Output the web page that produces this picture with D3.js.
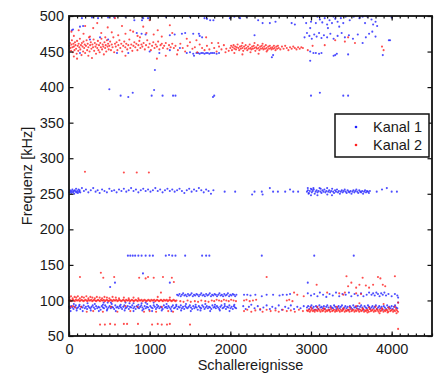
<!DOCTYPE html>
<html>
<head>
<meta charset="utf-8">
<script src="https://cdn.jsdelivr.net/npm/d3@7"></script>
<style>
  body { margin: 0; background: #fff; }
  svg { display: block; font-family: "Liberation Sans", Arial, sans-serif; }
</style>
</head>
<body>
<svg id="chart"></svg>
<script>
// values, flat [x, y, x, y, ...]
const xTicks = [0, 1000, 2000, 3000, 4000];
const yTicks = [50, 100, 150, 200, 250, 300, 350, 400, 450, 500];
const seriesNames = ["Kanal 1", "Kanal 2"];

// Kanal 1 (blue)
const k1Top = [35,480, 50,481, 136,485, 160,497, 175,486, 285,498, 360,497, 485,498, 560,498, 700,499, 810,494, 905,494, 920,497, 980,497,
  1200,499, 1500,499, 1680,497, 1710,496, 1750,494, 1790,494, 1995,497, 2050,499, 2120,497, 2200,499, 2345,494, 2400,490, 2490,490,
  2560,492, 2760,490, 2800,488, 2900,499, 2940,490, 2990,483, 3000,492, 3060,490, 3080,499, 3110,495, 3140,491, 3170,497, 3200,488,
  3210,483, 3230,494, 3260,490, 3280,499, 3300,496, 3330,492, 3350,485, 3370,497, 3400,490, 3430,499, 3480,494, 3530,499, 3600,497,
  3640,499, 3670,490, 3700,499, 3750,495, 3770,488, 3800,492, 3820,486, 4000,498];
const k1Upper = [260,467, 385,470, 485,467, 840,476, 900,475, 950,474, 1250,473, 1310,474, 1400,475, 1440,476, 1540,475, 1610,475,
  1650,470, 1620,472, 2300,473, 2920,470, 2950,476, 2980,472, 3010,468, 3040,474, 3070,471, 3100,476, 3130,469, 3160,473, 3200,470,
  3240,475, 3280,468, 3330,472, 3380,476, 3420,470, 3470,473, 3520,468, 3580,474, 3640,462, 3680,470, 3720,475, 3760,478, 3800,471,
  3965,466, 3980,466,
  136,448, 595,448, 735,448, 1000,450, 1120,448, 1375,455, 1460,448, 1500,449, 1540,447, 1580,448, 1600,448, 1620,447, 1640,448,
  1660,448, 1680,447, 1700,448, 1720,448, 1740,447, 1760,448, 1780,448, 1800,448, 1830,447, 1860,448, 1250,452, 2990,450, 2990,437,
  3030,448, 3060,448, 3100,447, 3130,448, 3280,444, 3300,445, 3320,447, 3460,446, 3890,445, 2515,442, 2530,445, 1550,444];
const k1Mid = [500,397, 640,388, 735,386, 790,392, 1025,388, 1055,396, 1065,424, 1160,388, 1290,388, 1320,388, 1785,386, 1800,388,
  3000,388, 3110,392, 3400,388, 3460,388];
const k1Band250 = [5,252, 12,255, 20,253, 28,251, 35,254, 42,256, 50,252, 58,254, 65,250, 72,255, 80,253, 88,257, 95,252, 102,254,
  110,251, 118,256, 125,253, 132,255, 140,252,
  160,258, 185,254, 210,256, 240,252, 270,255, 300,258, 330,253, 355,255, 380,251, 410,256, 440,254, 470,252, 500,257, 530,254,
  560,255, 590,252, 620,256, 650,254, 680,257, 710,253, 740,255, 770,258, 800,254, 830,256, 860,252, 890,255, 920,257, 950,254,
  980,256, 1010,253, 1040,255, 1070,258, 1100,254, 1130,256, 1160,252, 1190,255, 1220,257, 1250,254, 1280,256, 1310,253, 1340,255,
  1370,257, 1400,254, 1430,251, 1460,255, 1490,257, 1520,253, 1550,256, 1580,254, 1610,258, 1640,255, 1670,252, 1700,256, 1730,254,
  1760,250, 1790,255, 1930,253, 2060,253,
  2270,249, 2300,253, 2390,253, 2400,249, 2490,258, 2530,253, 2590,253, 2680,253, 2740,256, 2780,253, 2840,253,
  2950,253, 2962,255, 2974,251, 2986,254, 2998,257, 3010,252, 3022,254, 3034,256, 3046,250, 3058,253, 3070,255, 3082,252, 3094,254,
  3106,258, 3118,253, 3130,251, 3142,255, 3154,253, 3166,256, 3178,252, 3190,254, 3202,249, 3214,253, 3226,255, 3238,252, 3250,254,
  3262,257, 3274,253, 3286,251, 3298,255, 3310,253, 3322,256, 3334,252, 3346,254, 3358,250, 3370,253, 3382,255, 3394,252, 3406,254,
  3418,256, 3430,253, 3442,251, 3454,255, 3466,253, 3478,252, 3490,254, 3502,250, 3514,253, 3526,255, 3538,252, 3550,254, 3562,256,
  3574,253, 3586,251, 3598,255, 3610,253, 3622,252, 3634,254, 3646,250, 3658,253, 3670,255, 3682,252, 3694,254, 3706,253, 3718,251,
  3730,254, 2960,258, 3000,248, 3030,258, 3080,248, 3120,257, 3200,258, 3260,248, 2970,250, 3010,256,
  3815,253, 3880,256, 3940,258, 4000,253, 4065,253];
const k1Band165 = [730,163, 760,163, 790,163, 820,163, 860,163, 900,163, 950,163, 1000,163, 1040,163, 1200,163, 1240,164, 1280,163,
  1320,163, 1440,163, 1650,163, 1700,163, 1740,163, 2390,163, 3040,163, 3530,163];
const k1Sparse = [510,119, 570,125, 917,138, 1250,125, 2960,125];
const k1Band108 = [1340,108, 1355,107, 1370,109, 1385,106, 1400,108, 1415,110, 1430,107, 1445,108, 1460,106, 1475,109, 1490,107,
  1505,108, 1520,110, 1535,106, 1550,108, 1565,107, 1580,109, 1595,108, 1610,106, 1625,108, 1640,110, 1655,107, 1670,108, 1685,106,
  1700,109, 1715,107, 1730,108, 1745,110, 1760,106, 1775,108, 1790,107, 1805,109, 1820,108, 1835,106, 1850,108, 1865,110, 1880,107,
  1895,108, 1910,106, 1925,109, 1940,107, 1955,108, 1970,110, 1985,106, 2000,108, 2015,107, 2030,109, 2045,108, 2060,106, 2075,108,
  2170,108, 2210,108, 2250,107, 2310,108, 2390,106, 2450,108, 2530,108, 2610,107, 2650,108, 2700,108, 2740,109,
  2960,110, 3000,107, 3040,109, 3080,106, 3110,111, 3150,108, 3190,105, 3230,109, 3270,107, 3310,111, 3350,106, 3390,109, 3430,108,
  3470,111, 3500,106, 3540,109, 3580,107, 3620,110, 3650,106, 3690,108, 3720,111, 3750,108, 3770,110, 3790,107, 3810,111, 3830,109,
  3850,106, 3870,110, 3890,108, 3910,111, 3930,107, 3960,109, 4000,106, 4040,109, 4070,107, 4080,104];
const k1Band90 = [0,91, 14,89, 28,92, 42,90, 56,88, 70,91, 84,93, 98,89, 112,90, 126,92, 140,88, 154,91, 168,90, 182,93, 196,89,
  210,91, 224,88, 238,92, 252,90, 266,89, 280,91, 294,93, 308,90, 322,88, 336,92, 350,89, 364,91, 378,90, 392,87, 406,92, 420,90,
  434,89, 448,93, 462,91, 476,88, 490,90, 504,92, 518,89, 532,91, 546,90, 560,88, 574,93, 588,90, 602,91, 616,89, 630,92, 644,90,
  658,88, 672,91, 686,93, 700,89, 714,90, 728,92, 742,88, 756,91, 770,90, 784,93, 798,89, 812,91, 826,88, 840,92, 854,90, 868,89,
  882,91, 896,93, 910,90, 924,88, 938,92, 952,89, 966,91, 980,90, 994,87, 1008,92, 1022,90, 1036,89, 1050,93, 1064,91, 1078,88,
  1092,90, 1106,92, 1120,89, 1134,91, 1148,90, 1162,88, 1176,93, 1190,90, 1204,91, 1218,89, 1232,92, 1246,90, 1260,88, 1274,91,
  1288,93, 1302,89, 1316,90, 1330,92, 1344,88, 1358,91, 1372,90, 1386,93, 1400,89, 1414,91, 1428,88, 1442,92, 1456,90, 1470,89,
  1484,91, 1498,93, 1512,90, 1526,88, 1540,92, 1554,89, 1568,91, 1582,90, 1596,87, 1610,92, 1624,90, 1638,89, 1652,93, 1666,91,
  1680,88, 1694,90, 1708,92, 1722,89, 1736,91, 1750,90, 1764,88, 1778,93, 1792,90, 1806,91, 1820,89, 1834,92, 1848,90, 1862,88,
  1876,91, 1890,93, 1904,89, 1918,90, 1932,92, 1946,88, 1960,91, 1974,90, 1988,93, 2002,89, 2016,91, 2030,88, 2044,92, 2058,90,
  2072,89,
  20,85, 60,95, 95,86, 130,94, 170,85, 230,96, 270,86, 320,95, 370,85, 420,94, 470,86, 530,95, 580,85, 640,94, 690,86, 750,96,
  800,85, 860,94, 910,86, 970,95, 1030,85, 1090,94, 1150,86, 1210,95, 1270,85, 1330,94, 1390,86, 1450,95, 1510,85, 1570,94, 1630,86,
  1690,95, 1750,85, 1810,94, 1870,86, 1930,95, 1990,85, 2050,94, 430,97, 480,97, 520,97, 700,97, 800,96, 900,96, 950,97, 1050,97,
  2160,92, 2190,88, 2230,91, 2260,94, 2300,89, 2340,92, 2370,87, 2410,90, 2450,93, 2490,88, 2520,91, 2560,89, 2600,93, 2640,87,
  2680,91, 2720,89, 2750,93, 2790,88, 2830,91, 2870,89, 2910,92,
  2950,90, 2964,92, 2978,88, 2992,91, 3006,93, 3020,89, 3034,91, 3048,87, 3062,92, 3076,90, 3090,88, 3104,93, 3118,90, 3132,91,
  3146,89, 3160,92, 3174,88, 3188,91, 3202,93, 3216,90, 3230,87, 3244,92, 3258,90, 3272,89, 3286,93, 3300,91, 3314,88, 3328,90,
  3342,92, 3356,89, 3370,91, 3384,93, 3398,88, 3412,90, 3426,92, 3440,89, 3454,91, 3468,87, 3482,92, 3496,90, 3510,88, 3524,93,
  3538,90, 3552,91, 3566,89, 3580,92, 3594,88, 3608,91, 3622,93, 3636,90, 3650,87, 3664,92, 3678,90, 3692,89, 3706,93, 3720,91,
  3734,88, 3748,90, 3762,92, 3776,89, 3790,91, 3804,93, 3818,88, 3832,90, 3846,92, 3860,89, 3874,91, 3888,87, 3902,92, 3916,90,
  3930,88, 3944,93, 3958,90, 3972,91, 3986,89, 4000,92, 4014,88, 4028,91, 4042,93, 4056,90, 4070,89, 4080,97];

// Kanal 2 (red)
const k2Cluster460 = [5,458, 12,462, 18,455, 25,451, 30,460, 36,466, 42,456, 48,449, 55,461, 60,457, 68,452, 74,463, 80,459, 88,454,
  95,447, 100,465, 108,458, 115,451, 120,461, 128,456, 135,468, 140,453, 148,459, 155,445, 160,462, 168,457, 175,450, 180,464,
  188,455, 195,460, 200,448, 210,458, 218,466, 225,452, 232,461, 240,456, 248,470, 255,450, 262,459, 270,463, 278,454, 285,441,
  290,460, 298,456, 305,467, 312,451, 320,462, 328,457, 335,447, 342,460, 350,455, 358,465, 365,452, 372,459, 380,449, 388,462,
  395,456, 402,468, 410,453, 418,460, 425,457, 432,446, 440,463, 448,455, 455,459, 462,450, 470,466, 478,457, 485,461, 492,453,
  500,458, 510,464, 520,452, 530,460, 540,456, 550,470, 560,449, 570,461, 580,457, 590,463, 600,452, 612,459, 625,466, 636,455,
  648,461, 660,450, 672,458, 685,464, 698,456, 710,461, 722,453, 735,459, 748,467, 760,455, 772,460, 785,451, 798,458, 810,463,
  822,456, 835,461, 848,452, 860,459, 872,465, 885,455, 898,460, 910,457, 925,462, 940,453, 955,459, 970,466, 985,456, 1000,461,
  1015,452, 1030,458, 1045,463, 1060,455, 1075,460, 1090,457, 1105,464, 1120,453, 1135,459, 1150,461, 1165,455, 1180,458, 1200,462,
  1220,454, 1240,459, 1260,456, 1280,461, 1300,455,
  30,478, 60,472, 120,480, 180,475, 200,486, 260,471, 300,483, 350,490, 400,476, 450,470, 480,484, 530,477, 570,497, 610,473,
  657,486, 700,475, 760,480, 795,478, 850,472, 880,470, 920,485, 960,476, 1000,494, 1050,474, 1100,480, 1150,471, 1250,487,
  1280,476, 100,440, 1090,440, 60,443, 240,444, 700,444, 1200,444, 1340,446,
  1320,458, 1350,452, 1380,461, 1410,455, 1440,450, 1470,458, 1500,463, 1530,454, 1560,456, 1590,449, 1620,460, 1650,455, 1680,452,
  1710,458, 1740,453, 1770,462, 1800,455, 1830,450, 1860,457, 1890,453, 1920,459, 1950,454, 1980,451, 1460,468, 1580,466, 1700,470,
  1850,462, 1940,449];
const k2Band455 = [2000,455, 2010,458, 2020,452, 2030,456, 2040,459, 2050,454, 2060,457, 2070,453, 2080,456, 2090,460, 2100,455,
  2110,452, 2120,457, 2130,454, 2140,458, 2150,455, 2160,451, 2170,457, 2180,454, 2190,459, 2200,455, 2210,452, 2220,457, 2230,454,
  2240,460, 2250,455, 2260,453, 2270,457, 2280,454, 2290,458, 2300,455, 2310,451, 2320,456, 2330,454, 2340,459, 2350,455, 2360,452,
  2370,457, 2380,454, 2390,458, 2400,455, 2410,453, 2420,457, 2430,454, 2440,459, 2450,455, 2460,452, 2470,457, 2480,454, 2490,458,
  2500,455, 2510,453, 2520,456, 2530,454, 2540,458, 2550,455, 2560,452, 2570,457, 2580,454, 2590,458, 2600,455, 2620,453, 2640,457,
  2660,454, 2680,458, 2700,455, 2720,452, 2740,456, 2760,454, 2780,457, 2800,455, 2820,453, 2840,456, 2860,454, 2880,456, 2900,455,
  2050,448, 2150,446, 2250,449, 2350,447, 2450,450, 2150,462, 2300,462, 2400,461,
  2960,452, 3020,458, 3170,459, 3300,466, 3420,464, 3460,470, 3545,462, 3880,457, 3900,452];
const k2Sparse = [198,281, 680,280, 840,280, 990,280,
  136,133, 395,139, 425,132, 560,133, 870,132, 950,131, 980,133, 1050,132, 1165,133, 1275,132, 1300,126, 2450,133, 3070,122,
  3440,134, 3460,120, 3500,125, 3560,118, 3600,122, 3640,132, 3680,121, 3720,118, 3770,122, 3830,133, 3860,131, 3890,122, 3920,120,
  4040,134,
  385,66, 445,66, 510,67, 570,66, 680,67, 720,67, 855,67, 1030,66, 1100,67, 1150,66, 1215,66, 1250,67, 1500,66, 4080,60];
const k2Band100 = [0,100, 12,101, 24,99, 36,100, 48,101, 60,100, 72,99, 84,101, 96,100, 108,100, 120,101, 132,99, 144,100, 156,101,
  168,100, 180,99, 192,100, 204,101, 216,100, 228,99, 240,101, 252,100, 264,100, 276,101, 288,99, 300,100, 312,101, 324,100, 336,99,
  348,100, 360,101, 372,100, 384,99, 396,101, 408,100, 420,100, 432,101, 444,99, 456,100, 468,101, 480,100, 492,99, 504,100, 516,101,
  528,100, 540,99, 552,101, 564,100, 576,100, 588,101, 600,99, 612,100, 624,101, 636,100, 648,99, 660,100, 672,101, 684,100, 696,99,
  708,101, 720,100, 732,100, 744,101, 756,99, 768,100, 780,101, 792,100, 804,99, 816,100, 828,101, 840,100, 852,99, 864,101, 876,100,
  888,100, 900,101, 912,99, 924,100, 936,101, 948,100, 960,99, 972,100, 984,101, 996,100, 1008,99, 1020,101, 1032,100, 1044,100,
  1056,101, 1068,99, 1080,100, 1092,101, 1104,100, 1116,99, 1128,100, 1140,101, 1152,100, 1164,99, 1176,101, 1188,100, 1200,100,
  1212,101, 1224,99, 1236,100, 1248,101, 1260,100, 1272,99, 1284,100, 1296,101, 1308,100, 1320,99, 1332,100,
  5,104, 25,106, 45,103, 70,105, 90,104, 110,106, 135,103, 160,105, 185,104, 215,106, 240,103, 265,105, 290,104, 320,103, 345,105,
  380,104, 410,103, 440,105, 470,104, 500,103, 540,105, 580,104, 620,103, 680,104, 740,103, 800,104, 860,103, 1100,105, 1250,104,
  1140,111,
  20,91, 50,92, 80,90, 150,91, 220,84, 300,85, 420,84, 520,91, 600,84, 700,92, 760,85, 850,91, 930,84, 1000,85, 1080,84, 1150,91,
  1230,85, 1290,84,
  1380,99, 1420,98, 1470,100, 1510,98, 1560,99, 1600,98, 1640,100, 1690,99, 1730,98, 1770,100, 1800,99, 1830,101, 1860,100,
  1890,99, 1920,101, 1950,100, 1980,99, 2010,101, 2040,100, 2070,99, 2170,100, 2200,101, 2240,99, 2280,100, 2320,101, 2700,100,
  2730,101, 2770,99,
  2790,111, 2830,108, 2910,106, 3200,111, 3350,110, 3400,108, 3420,111, 3560,110, 3620,109];
const k2Band86 = [2170,85, 2210,87, 2260,84, 2310,86, 2370,88, 2400,84, 2450,87, 2500,85, 2560,86, 2600,84, 2650,87, 2700,85,
  2750,86, 2800,84, 2850,87, 2900,85,
  2950,86, 2962,85, 2974,87, 2986,84, 2998,86, 3010,88, 3022,85, 3034,86, 3046,84, 3058,87, 3070,86, 3082,85, 3094,88, 3106,86,
  3118,84, 3130,87, 3142,85, 3154,86, 3166,88, 3178,84, 3190,86, 3202,85, 3214,87, 3226,86, 3238,84, 3250,88, 3262,85, 3274,86,
  3286,87, 3298,84, 3310,86, 3322,85, 3334,88, 3346,86, 3358,84, 3370,87, 3382,85, 3394,86, 3406,88, 3418,84, 3430,86, 3442,85,
  3454,87, 3466,86, 3478,84, 3490,88, 3502,85, 3514,86, 3526,87, 3538,84, 3550,86, 3562,85, 3574,88, 3586,86, 3598,84, 3610,87,
  3622,85, 3634,86, 3646,88, 3658,84, 3670,86, 3682,85, 3694,87, 3706,86, 3718,84, 3730,88, 3742,85, 3754,86, 3766,87, 3778,84,
  3790,86, 3802,85, 3814,88, 3826,86, 3838,84, 3850,87, 3862,85, 3874,86, 3886,88, 3898,84, 3910,86, 3922,85, 3934,87, 3946,86,
  3958,84, 3970,88, 3982,85, 3994,86, 4006,87, 4018,84, 4030,86, 4042,85, 4054,88, 4066,86, 4078,84,
  3000,90, 3080,91, 3160,89, 3240,90, 3320,91, 3400,89, 3480,90, 3560,92, 3640,89, 3720,90, 3800,91, 3880,89, 3960,90, 4040,91,
  3700,83, 3850,82, 3950,83, 4060,82, 3900,95, 3600,96, 4080,97];

function pairs(arr) {
  return d3.range(0, arr.length, 2).map(i => [arr[i], arr[i + 1]]);
}

const kanal1 = [].concat(pairs(k1Top), pairs(k1Upper), pairs(k1Mid), pairs(k1Band250), pairs(k1Band165),
  pairs(k1Sparse), pairs(k1Band108), pairs(k1Band90));
const kanal2 = [].concat(pairs(k2Cluster460), pairs(k2Band455), pairs(k2Sparse), pairs(k2Band100), pairs(k2Band86));

const colors = ["#2020ff", "#ff2020"];

let svg = d3.select("#chart").attr("width", 438).attr("height", 374);
let margin = {top: 16, right: 6, bottom: 38, left: 69},
    width = 438 - margin.left - margin.right,
    height = 374 - margin.top - margin.bottom,
    g = svg.append("g").attr("transform", "translate(" + margin.left + "," + margin.top + ")");

let x = d3.scaleLinear().domain([0, 4500]).range([0, width]);
let y = d3.scaleLinear().domain([50, 500]).range([height, 0]);

// points
[kanal1, kanal2].forEach((data, i) => {
  g.append("g")
    .selectAll("circle")
    .data(data)
    .enter().append("circle")
    .attr("cx", d => x(d[0]))
    .attr("cy", d => y(d[1]))
    .attr("r", 1.05)
    .attr("fill", colors[i])
    .attr("fill-opacity", 0.8);
});

// minor ticks (every 100) on bottom and top
let minor = d3.range(0, 4501, 100);
g.append("g")
  .attr("transform", "translate(0," + height + ")")
  .call(d3.axisBottom(x).tickValues(minor).tickSize(-2.5).tickFormat(""))
  .call(a => a.select(".domain").remove());
g.append("g")
  .call(d3.axisTop(x).tickValues(minor).tickSize(-2.5).tickFormat(""))
  .call(a => a.select(".domain").remove());

// major ticks
let xAxis = g.append("g")
  .attr("transform", "translate(0," + height + ")")
  .call(d3.axisBottom(x).tickValues(xTicks).tickFormat(d3.format("d"))
    .tickSizeInner(-4.5).tickSizeOuter(0).tickPadding(8));
g.append("g")
  .call(d3.axisTop(x).tickValues(xTicks).tickSize(-4.5).tickFormat(""));
let yAxis = g.append("g")
  .call(d3.axisLeft(y).tickValues(yTicks).tickFormat(d3.format("d"))
    .tickSizeInner(-4.5).tickSizeOuter(0).tickPadding(5));
g.append("g")
  .attr("transform", "translate(" + width + ",0)")
  .call(d3.axisRight(y).tickValues(yTicks).tickSize(-4.5).tickFormat(""));

g.selectAll(".domain").remove();
g.selectAll(".tick line").attr("stroke", "#111").attr("stroke-width", 1.2);
[xAxis, yAxis].forEach(a => a.selectAll("text").attr("font-size", 14.5).attr("fill", "#1a1a1a")
  .attr("font-family", "'Liberation Sans', Arial, sans-serif"));

// frame
g.append("rect")
  .attr("width", width).attr("height", height)
  .attr("fill", "none").attr("stroke", "#111").attr("stroke-width", 1.8);

// axis titles
svg.append("text")
  .attr("x", margin.left + width / 2).attr("y", 370)
  .attr("text-anchor", "middle").attr("font-size", 14.5).attr("fill", "#1a1a1a")
  .text("Schallereignisse");
svg.append("text")
  .attr("transform", "translate(32," + (margin.top + height / 2) + ") rotate(-90)")
  .attr("text-anchor", "middle").attr("font-size", 14.5).attr("fill", "#1a1a1a")
  .text("Frequenz [kHz]");

// legend
let leg = svg.append("g").attr("transform", "translate(335,114)");
leg.append("rect").attr("width", 94).attr("height", 43)
  .attr("fill", "#fff").attr("stroke", "#111").attr("stroke-width", 1.5);
seriesNames.forEach((name, i) => {
  leg.append("circle").attr("cx", 21).attr("cy", 13 + i * 18).attr("r", 1.3).attr("fill", colors[i]);
  leg.append("text").attr("x", 38).attr("y", 18 + i * 18)
    .attr("font-size", 14.5).attr("fill", "#1a1a1a").text(name);
});
</script>
</body>
</html>
